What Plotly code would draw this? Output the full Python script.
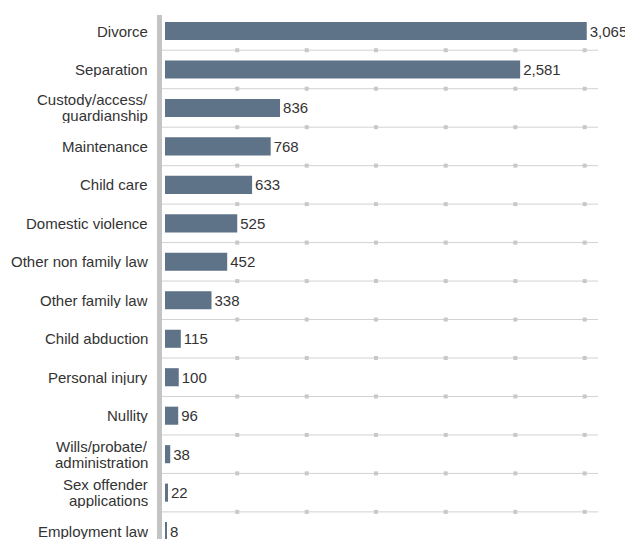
import plotly.graph_objects as go

categories = ["Divorce", "Separation", "Custody/access/<br>guardianship", "Maintenance",
              "Child care", "Domestic violence", "Other non family law", "Other family law",
              "Child abduction", "Personal injury", "Nullity",
              "Wills/probate/<br>administration", "Sex offender<br>applications", "Employment law"]
values = [3065, 2581, 836, 768, 633, 525, 452, 338, 115, 100, 96, 38, 22, 8]
grid_marks = [525, 1030, 1533, 2040, 2546, 3050]

idx = list(range(len(categories)))

fig = go.Figure()

# separator lines between categories
sx, sy, mx, my = [], [], [], []
for i in range(len(categories) - 1):
    sx += [-21.8, 3147, None]
    sy += [i + 0.5, i + 0.5, None]
    for g in grid_marks:
        mx.append(g)
        my.append(i + 0.5)
fig.add_trace(go.Scatter(x=sx, y=sy, mode="lines", line=dict(color="#d2d2d2", width=1),
                         hoverinfo="skip", showlegend=False, cliponaxis=False))
fig.add_trace(go.Scatter(x=mx, y=my, mode="markers",
                         marker=dict(symbol="square", size=4, color="#c8c8c8", line=dict(width=0)),
                         hoverinfo="skip", showlegend=False))

fig.add_trace(go.Bar(x=values, y=idx, orientation="h", width=0.47,
                     marker=dict(color="#5e7388", line=dict(width=0)),
                     text=values, texttemplate="%{x:,}", textposition="outside",
                     constraintext="none",
                     textfont=dict(size=15, color="#333333", family="Liberation Sans, Arial"),
                     cliponaxis=False, showlegend=False))

# category labels as annotations (tight line spacing for wrapped labels)
line_step = 16.0 / 38.47  # one text line in category units
annotations = []
for i, cat in enumerate(categories):
    lines = cat.split("<br>")
    n = len(lines)
    for k, ln in enumerate(lines):
        annotations.append(dict(
            x=0, xref="paper", xanchor="right", xshift=-13,
            y=i + (k - (n - 1) / 2) * line_step, yref="y", yanchor="middle",
            text=ln, showarrow=False, height=15, borderpad=0,
            font=dict(size=15, color="#333333", family="Liberation Sans, Arial")))

# page body has an 8px margin: figure is sized/offset to land at the reference positions
fig.update_layout(
    width=625, height=531,
    margin=dict(l=154, r=0, t=7, b=0, autoexpand=False),
    plot_bgcolor="white", paper_bgcolor="white",
    font=dict(family="Liberation Sans, Arial", size=15, color="#333333"),
    xaxis=dict(range=[-21.8, 3401], showgrid=False, zeroline=False, showticklabels=False,
               showline=False, fixedrange=True, automargin=False),
    yaxis=dict(range=[13.205, -0.416], tickvals=idx, showticklabels=False,
               showgrid=False, zeroline=False, showline=True, linewidth=5, linecolor="#c4c4c4",
               ticks="", automargin=False),
    annotations=annotations,
    bargap=0.5,
)

fig.write_html("out.html")
